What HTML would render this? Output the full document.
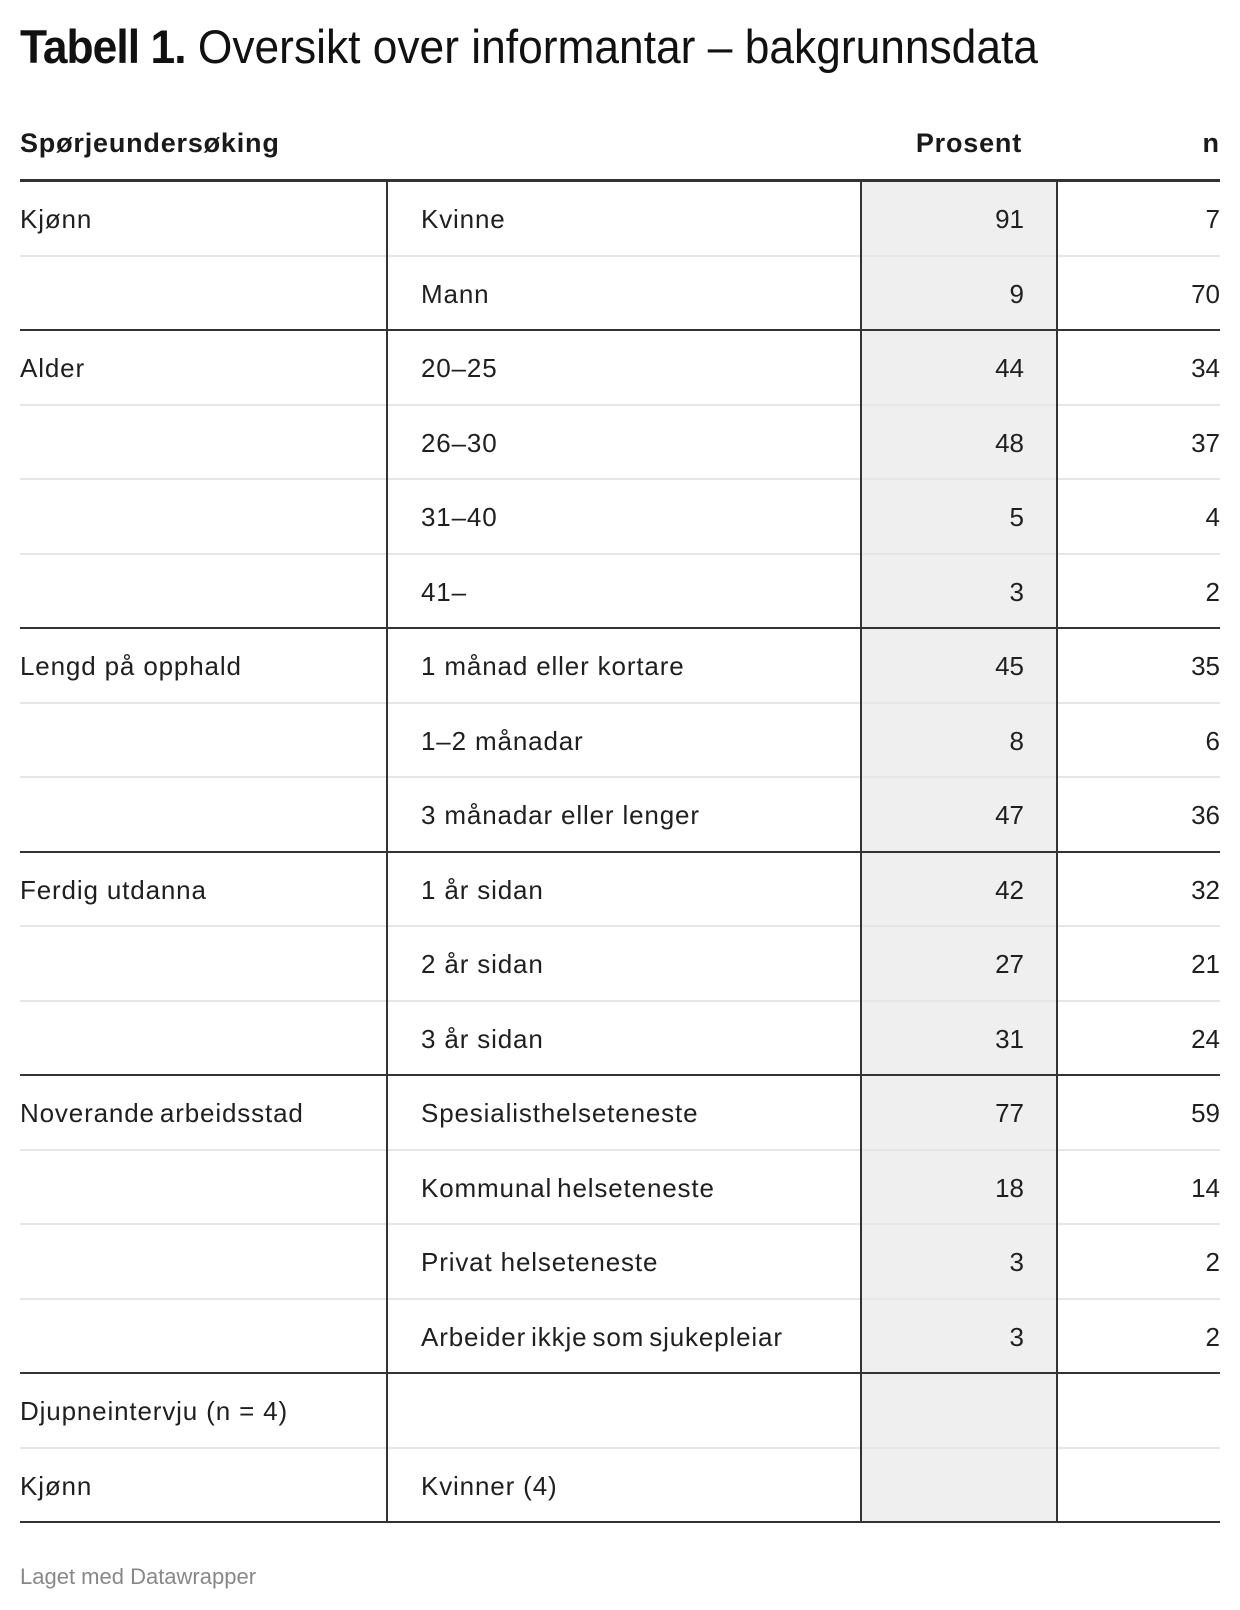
<!DOCTYPE html>
<html><head><meta charset="utf-8"><style>
html,body{margin:0;padding:0;background:#fff;}
body{width:1240px;height:1610px;position:relative;overflow:hidden;font-family:"Liberation Sans",Arial,sans-serif;color:#1f1f1f;}
.a{position:absolute;white-space:nowrap;}
#title{left:20px;top:23px;font-size:47px;line-height:47px;color:#111;transform:scaleX(.943);transform-origin:0 0;}
#title b{letter-spacing:-1px;}
.h{font-weight:bold;font-size:27px;line-height:27px;top:130.4px;letter-spacing:0.8px;color:#1a1a1a;}
.gray{left:862px;width:194px;top:182px;height:1341px;background:#efefef;}
.hl{left:20px;width:1200px;height:2px;}
.lt{background:#e6e6e6;}
.dk{background:#333;}
.vl{top:182px;height:1341px;width:2px;background:#333;}
.r{position:absolute;left:0;width:1240px;height:72.5px;font-size:26px;line-height:72.5px;}
.r span{position:absolute;top:1px;white-space:nowrap;}
.c1{left:20px;letter-spacing:0.85px;}
.c2{left:421px;letter-spacing:0.85px;}
.c3{right:216px;}
.c4{right:20px;}
.ws{word-spacing:-3px;}
#foot{left:20px;top:1566.4px;font-size:22px;line-height:22px;color:#888;}
</style></head><body>
<div class="a" id="title"><b>Tabell 1.</b> Oversikt over informantar – bakgrunnsdata</div>

<div class="a h" style="left:20px;">Spørjeundersøking</div>
<div class="a h" style="right:218px;">Prosent</div>
<div class="a h" style="right:21px;letter-spacing:0;">n</div>

<div class="a gray"></div>

<div class="a dk" style="left:20px;width:1200px;top:179px;height:3px;"></div>

<div class="a hl lt" style="top:254.5px;"></div>
<div class="a hl dk" style="top:329px;"></div>
<div class="a hl lt" style="top:403.5px;"></div>
<div class="a hl lt" style="top:478px;"></div>
<div class="a hl lt" style="top:552.5px;"></div>
<div class="a hl dk" style="top:627px;"></div>
<div class="a hl lt" style="top:701.5px;"></div>
<div class="a hl lt" style="top:776px;"></div>
<div class="a hl dk" style="top:850.5px;"></div>
<div class="a hl lt" style="top:925px;"></div>
<div class="a hl lt" style="top:999.5px;"></div>
<div class="a hl dk" style="top:1074px;"></div>
<div class="a hl lt" style="top:1148.5px;"></div>
<div class="a hl lt" style="top:1223px;"></div>
<div class="a hl lt" style="top:1297.5px;"></div>
<div class="a hl dk" style="top:1372px;"></div>
<div class="a hl lt" style="top:1446.5px;"></div>
<div class="a hl dk" style="top:1521px;"></div>

<div class="a vl" style="left:386px;"></div>
<div class="a vl" style="left:860px;"></div>
<div class="a vl" style="left:1056px;"></div>

<div class="r" style="top:182px;"><span class="c1">Kjønn</span><span class="c2">Kvinne</span><span class="c3">91</span><span class="c4">7</span></div>
<div class="r" style="top:256.5px;"><span class="c2">Mann</span><span class="c3">9</span><span class="c4">70</span></div>
<div class="r" style="top:331px;"><span class="c1">Alder</span><span class="c2">20–25</span><span class="c3">44</span><span class="c4">34</span></div>
<div class="r" style="top:405.5px;"><span class="c2">26–30</span><span class="c3">48</span><span class="c4">37</span></div>
<div class="r" style="top:480px;"><span class="c2">31–40</span><span class="c3">5</span><span class="c4">4</span></div>
<div class="r" style="top:554.5px;"><span class="c2">41–</span><span class="c3">3</span><span class="c4">2</span></div>
<div class="r" style="top:629px;"><span class="c1">Lengd på opphald</span><span class="c2">1 månad eller kortare</span><span class="c3">45</span><span class="c4">35</span></div>
<div class="r" style="top:703.5px;"><span class="c2">1–2 månadar</span><span class="c3">8</span><span class="c4">6</span></div>
<div class="r" style="top:778px;"><span class="c2">3 månadar eller lenger</span><span class="c3">47</span><span class="c4">36</span></div>
<div class="r" style="top:852.5px;"><span class="c1">Ferdig utdanna</span><span class="c2">1 år sidan</span><span class="c3">42</span><span class="c4">32</span></div>
<div class="r" style="top:927px;"><span class="c2">2 år sidan</span><span class="c3">27</span><span class="c4">21</span></div>
<div class="r" style="top:1001.5px;"><span class="c2">3 år sidan</span><span class="c3">31</span><span class="c4">24</span></div>
<div class="r" style="top:1076px;"><span class="c1 ws">Noverande arbeidsstad</span><span class="c2">Spesialisthelseteneste</span><span class="c3">77</span><span class="c4">59</span></div>
<div class="r" style="top:1150.5px;"><span class="c2 ws">Kommunal helseteneste</span><span class="c3">18</span><span class="c4">14</span></div>
<div class="r" style="top:1225px;"><span class="c2">Privat helseteneste</span><span class="c3">3</span><span class="c4">2</span></div>
<div class="r" style="top:1299.5px;"><span class="c2 ws">Arbeider ikkje som sjukepleiar</span><span class="c3">3</span><span class="c4">2</span></div>
<div class="r" style="top:1374px;"><span class="c1">Djupneintervju (n = 4)</span></div>
<div class="r" style="top:1448.5px;"><span class="c1">Kjønn</span><span class="c2">Kvinner (4)</span></div>

<div class="a" id="foot">Laget med Datawrapper</div>
</body></html>
